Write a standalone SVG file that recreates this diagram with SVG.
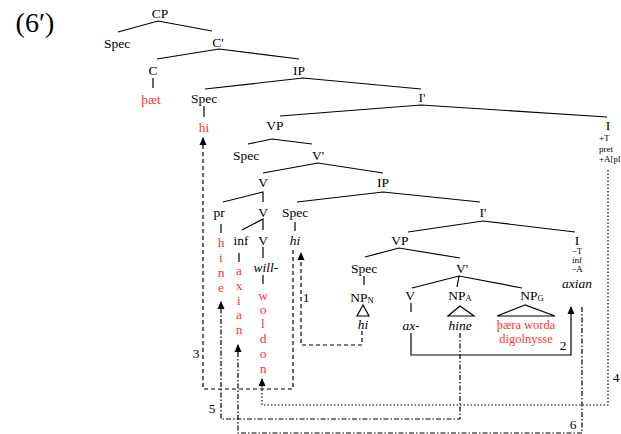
<svg xmlns="http://www.w3.org/2000/svg" width="621" height="434" viewBox="0 0 621 434">
<style>
text{font-family:"Liberation Serif","Times New Roman",serif;font-size:13.5px;fill:#000;text-anchor:middle;dominant-baseline:central}
.r{fill:#f33}
.i{font-style:italic}
.f{font-size:9px;text-anchor:start}
.fc{font-size:9px}
.t{stroke:#000;stroke-width:1.2;fill:none}
.c{stroke:#000;stroke-width:1.2;fill:none}
.dash{stroke-dasharray:4 3}
.dot{stroke-dasharray:1.5 2}
.dd{stroke-dasharray:5 2 1.5 2}
.sub{font-size:8.5px}
.sm{font-size:12.5px}
</style>
<defs>
<marker id="ah" markerWidth="8" markerHeight="8" refX="7" refY="4" orient="auto" markerUnits="userSpaceOnUse">
<path d="M0,0.5 L8,4 L0,7.5 Z" fill="#000"/>
</marker>
</defs>
<rect width="621" height="434" fill="#fff"/>
<text x="35" y="22" style="font-size:28px">(6′)</text>

<g id="edges">
<polyline class="t" points="118,32 158,21 212,31"/>
<polyline class="t" points="157,59 219,49 299,59"/>
<line class="t" x1="153" y1="78" x2="153" y2="88"/>
<polyline class="t" points="205,89 303,78 421,89"/>
<line class="t" x1="204" y1="106" x2="204" y2="117"/>
<polyline class="t" points="280,116 421,105 607,117"/>
<polyline class="t" points="248,144 272,139 312,144"/>
<polyline class="t" points="263,173 318,163 383,173"/>
<polyline class="t" points="223,202 263,192 263,202"/>
<polyline class="t" points="297,202 383,192 480,202"/>
<polyline class="t" points="242,230 263,219 263,230"/>
<line class="t" x1="221" y1="224" x2="221" y2="233"/>
<line class="t" x1="239" y1="253" x2="239" y2="262"/>
<line class="t" x1="263" y1="247" x2="263" y2="258"/>
<line class="t" x1="263" y1="275" x2="263" y2="284"/>
<line class="t" x1="295" y1="222" x2="295" y2="231"/>
<polyline class="t" points="408,232 483,221 575,232"/>
<polyline class="t" points="365,257 399,248 460,258"/>
<line class="t" x1="364" y1="276" x2="364" y2="285"/>
<polyline class="t" points="412,288 459,276 522,288"/>
<line class="t" x1="459" y1="276" x2="457" y2="287"/>
<line class="t" x1="411" y1="303" x2="411" y2="312"/>
<polygon class="t" points="363,305 357,316 369,316"/>
<polygon class="t" points="460,306 448,316 474,316"/>
<polygon class="t" points="525,305 497,316 555,316"/>
</g>

<g id="connectors">
<path class="c dash" d="M362,331 V345 H301 V253" marker-end="url(#ah)"/>
<path class="c" d="M411,333 V355 H571 V307" marker-end="url(#ah)"/>
<path class="c dash" d="M293,250 V389 H203 V138" marker-end="url(#ah)"/>
<path class="c dot" d="M608,170 V405 H262 V379" marker-end="url(#ah)"/>
<path class="c dd" d="M460,333 V419 H221 V302" marker-end="url(#ah)"/>
<path class="c dd" d="M582,307 V433 H238 V345" marker-end="url(#ah)"/>
<text x="306" y="297">1</text>
<text x="563" y="345">2</text>
<text x="196" y="353">3</text>
<text x="616" y="377">4</text>
<text x="212" y="408">5</text>
<text x="573" y="424">6</text>
</g>

<g id="n-cp"><text x="160" y="13">CP</text></g>
<g id="n-spec1"><text x="117" y="43">Spec</text></g>
<g id="n-cbar"><text x="218" y="42">C'</text></g>
<g id="n-c"><text x="153" y="70">C</text><text class="r" x="151" y="99">þæt</text></g>
<g id="n-ip1"><text x="299" y="70">IP</text></g>
<g id="n-spec2"><text x="204" y="98">Spec</text><text class="r" x="204" y="127">hi</text></g>
<g id="n-ibar1"><text x="422" y="97">I'</text></g>
<g id="n-i1"><text x="608" y="125">I</text>
<text class="f" x="599" y="138">+T</text>
<text class="f" x="599" y="149">pret</text>
<text class="f" x="599" y="159">+A[pl</text></g>
<g id="n-vp1"><text x="275" y="125">VP</text></g>
<g id="n-spec3"><text x="246" y="155">Spec</text></g>
<g id="n-vbar1"><text x="318" y="155">V'</text></g>
<g id="n-v1"><text x="263" y="182">V</text></g>
<g id="n-ip2"><text x="383" y="182">IP</text></g>
<g id="n-pr"><text x="219" y="212">pr</text>
<text class="r" x="221" y="242">h</text><text class="r" x="221" y="257">i</text><text class="r" x="221" y="272">n</text><text class="r" x="221" y="287">e</text></g>
<g id="n-v2"><text x="263" y="212">V</text></g>
<g id="n-spec4"><text x="295" y="212">Spec</text><text class="i" x="295" y="240">hi</text></g>
<g id="n-inf"><text x="241" y="240">inf</text>
<text class="r" x="239" y="270">a</text><text class="r" x="239" y="285">x</text><text class="r" x="239" y="300">i</text><text class="r" x="239" y="314">a</text><text class="r" x="239" y="329">n</text></g>
<g id="n-v3"><text x="263" y="240">V</text><text class="i" x="266" y="267">will-</text>
<text class="r" x="263" y="295">w</text><text class="r" x="263" y="309">o</text><text class="r" x="263" y="323">l</text><text class="r" x="263" y="338">d</text><text class="r" x="263" y="353">o</text><text class="r" x="263" y="368">n</text></g>
<g id="n-ibar2"><text x="483" y="212">I'</text></g>
<g id="n-vp2"><text x="400" y="240">VP</text></g>
<g id="n-i2"><text x="577" y="240">I</text>
<text class="fc" x="577" y="251">−T</text>
<text class="fc" x="577" y="260">inf</text>
<text class="fc" x="577" y="269">−A</text>
<text class="i" x="577" y="283">axian</text></g>
<g id="n-spec5"><text x="364" y="268">Spec</text></g>
<g id="n-vbar2"><text x="462" y="268">V'</text></g>
<g id="n-npn"><text x="362" y="297">NP<tspan class="sub" dy="3">N</tspan></text><text class="i" x="363" y="324">hi</text></g>
<g id="n-v4"><text x="410" y="295">V</text><text class="i" x="411" y="325">ax-</text></g>
<g id="n-npa"><text x="460" y="295">NP<tspan class="sub" dy="3">A</tspan></text><text class="i" x="460" y="325">hine</text></g>
<g id="n-npg"><text x="532" y="295">NP<tspan class="sub" dy="3">G</tspan></text>
<text class="r sm" x="526" y="325">þæra worda</text><text class="r sm" x="526" y="339">digolnysse</text></g>
</svg>
